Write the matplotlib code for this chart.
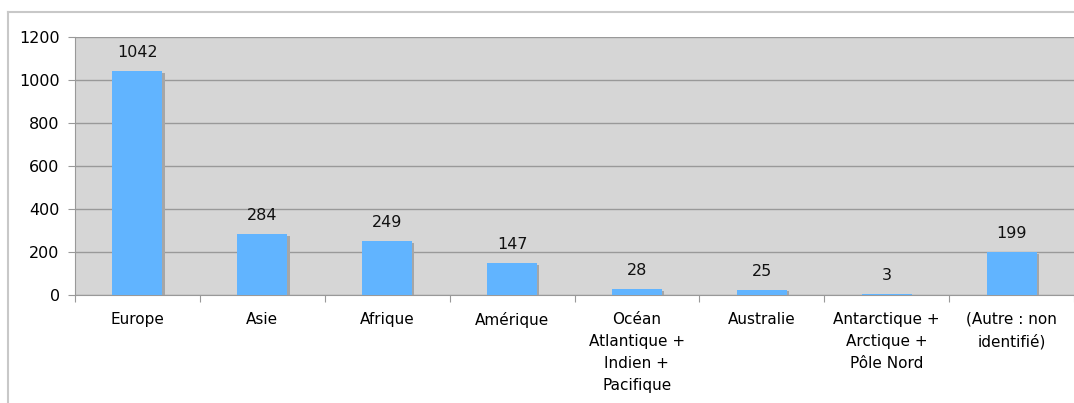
import matplotlib
matplotlib.use("Agg")
import matplotlib.pyplot as plt
from matplotlib.lines import Line2D

categories = ["Europe", "Asie", "Afrique", "Amérique",
              "Océan\nAtlantique +\nIndien +\nPacifique", "Australie",
              "Antarctique +\nArctique +\nPôle Nord", "(Autre : non\nidentifié)"]
values = [1042, 284, 249, 147, 28, 25, 3, 199]
yticks = [0, 200, 400, 600, 800, 1000, 1200]

W, H = 1074, 403
fig = plt.figure(figsize=(W / 100, H / 100), dpi=100)
fig.patch.set_facecolor("white")

# axes in pixel coordinates: left 75, right 1074, top 37, bottom 295
ax = fig.add_axes([75 / W, 1 - 295 / H, (1074 - 75) / W, (295 - 37) / H])
ax.set_facecolor("#d6d6d6")

x = range(len(categories))
bw = 0.4
# shadow then bars
ax.bar([i + 0.018 for i in x], values, width=bw, color="#a6a6a6", zorder=2,
       bottom=[-8] * len(values))
ax.bar(x, values, width=bw, color="#61b4ff", zorder=3)

for i, v in zip(x, values):
    ax.annotate(str(v), (i, v), xytext=(0, 8), textcoords="offset points",
                ha="center", va="bottom", fontsize=11.5, color="#111111")

ax.set_ylim(0, 1200)
ax.set_xlim(-0.5, 7.46)
ax.set_yticks(yticks)
ax.set_yticklabels([str(t) for t in yticks], fontsize=11.5)
ax.yaxis.grid(True, color="#999999", linewidth=1, zorder=1)
ax.set_axisbelow(True)

ax.set_xticks([i + 0.5 for i in range(-1, len(categories))], minor=False)
ax.set_xticklabels([])
ax.set_xticks(list(x), minor=True)
ax.set_xticklabels(categories, minor=True, fontsize=11, linespacing=1.6)
ax.tick_params(axis="x", which="minor", length=0, pad=12)
ax.tick_params(axis="x", which="major", length=5, color="#999999")
ax.tick_params(axis="y", length=5, color="#999999", pad=6)

for s in ["top", "right"]:
    ax.spines[s].set_visible(False)
ax.spines["left"].set_color("#999999")
ax.spines["bottom"].set_color("#999999")

# outer frame lines (top and left)
fig.add_artist(Line2D([8 / W, 1], [1 - 12 / H] * 2, color="#c8c8c8", lw=1.5))
fig.add_artist(Line2D([8 / W] * 2, [0, 1 - 12 / H], color="#c8c8c8", lw=1.5))

fig.savefig("out.png", dpi=100)
